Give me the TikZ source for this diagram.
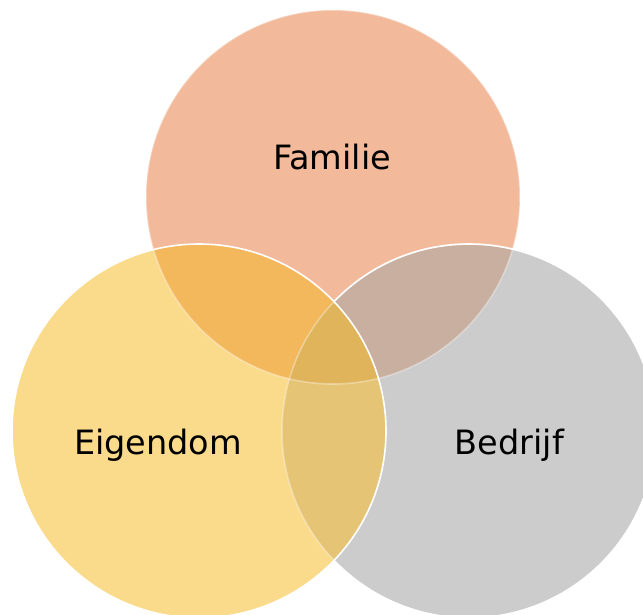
\documentclass[tikz,border=0pt]{standalone}
\usepackage{fontspec}
\setmainfont{DejaVu Sans}
\definecolor{cTop}{HTML}{F2B99A}
\definecolor{cLeft}{HTML}{FADA8B}
\definecolor{cRight}{HTML}{CCCCCC}
\definecolor{cTL}{HTML}{F4B85C}
\definecolor{cTR}{HTML}{C8AFA0}
\definecolor{cLR}{HTML}{E6C475}
\definecolor{cMid}{HTML}{E0B45A}
\tikzset{
  lbl/.style={anchor=base, inner sep=0pt, font=\fontsize{33.5}{40}\selectfont, text=black},
  rim/.style={draw=white, line width=1.6pt},
  faintrim/.style={draw=white, draw opacity=0.35, line width=1.6pt}
}
\begin{document}
\begin{tikzpicture}[x=1pt,y=-1pt]
\useasboundingbox (0,0) rectangle (643,614);
\clip (0,0) rectangle (643,614);
\def\R{187}
\coordinate (T) at (333,197);
\coordinate (L) at (199,431);
\coordinate (Rc) at (469,431);
% base fills
\fill[cTop] (T) circle[radius=\R];
\fill[cRight] (Rc) circle[radius=\R];
\fill[cLeft] (L) circle[radius=\R];
% pairwise overlaps
\begin{scope}
  \clip (T) circle[radius=\R];
  \fill[cTL] (L) circle[radius=\R];
  \fill[cTR] (Rc) circle[radius=\R];
\end{scope}
\begin{scope}
  \clip (L) circle[radius=\R];
  \fill[cLR] (Rc) circle[radius=\R];
\end{scope}
\begin{scope}
  \clip (T) circle[radius=\R];
  \clip (L) circle[radius=\R];
  \fill[cMid] (Rc) circle[radius=\R];
\end{scope}
% rims
\draw[faintrim] (T) circle[radius=\R];
\draw[faintrim] (Rc) circle[radius=\R];
\begin{scope}[even odd rule]
  \clip (-10,-10) rectangle (660,630) (L) circle[radius=\R];
  \draw[rim] (Rc) circle[radius=\R];
\end{scope}
\draw[rim] (L) circle[radius=\R];
% labels
\node[lbl] (fam) at (332,169) {Familie};
\node[lbl] (eig) at (158,454) {Eigendom};
\node[lbl] (bed) at (509.5,454) {Bedrijf};
\end{tikzpicture}
\end{document}
